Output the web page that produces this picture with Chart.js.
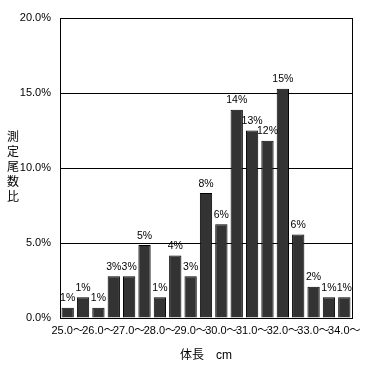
<!DOCTYPE html>
<html lang="ja">
<head>
    <meta charset="UTF-8">
    <title>体長組成</title>
    <script src="https://cdn.jsdelivr.net/npm/chart.js"></script>
    <style>
        body {
            margin: 0;
            background-color: white;
        }
        .chart-container {
            width: 370px;
            height: 369px;
            position: relative;
        }
    </style>
</head>
<body>
    <div class="chart-container">
        <canvas id="lengthChart"></canvas>
    </div>

    <script>
        // 体長階級 (0.5cm刻み)
        const classes = ['25.0〜', '25.5〜', '26.0〜', '26.5〜', '27.0〜', '27.5〜', '28.0〜', '28.5〜', '29.0〜', '29.5〜',
                         '30.0〜', '30.5〜', '31.0〜', '31.5〜', '32.0〜', '32.5〜', '33.0〜', '33.5〜', '34.0〜'];
        // 測定尾数比 (%)
        const ratios = [0.69, 1.39, 0.69, 2.78, 2.78, 4.86, 1.39, 4.17, 2.78, 8.33,
                        6.25, 13.89, 12.5, 11.81, 15.28, 5.56, 2.08, 1.39, 1.39];
        const barLabels = ['1%', '1%', '1%', '3%', '3%', '5%', '1%', '4%', '3%', '8%',
                           '6%', '14%', '13%', '12%', '15%', '6%', '2%', '1%', '1%'];
        const yTicks = [0, 5, 10, 15, 20];
        const yTitle = '測定尾数比';
        const xTitle = '体長　cm';

        const FONT = "'Liberation Sans', 'Noto Sans CJK JP', sans-serif";

        // bar value labels + stacked vertical y title + right frame
        const extras = {
            id: 'extras',
            afterDatasetsDraw(chart) {
                const ctx = chart.ctx;
                const meta = chart.getDatasetMeta(0);
                ctx.save();
                ctx.fillStyle = '#000';
                ctx.font = '10.5px ' + FONT;
                ctx.textAlign = 'center';
                ctx.textBaseline = 'bottom';
                meta.data.forEach((bar, i) => {
                    ctx.fillText(barLabels[i], bar.x, bar.y - 4);
                });

                const area = chart.chartArea;
                ctx.font = '12px ' + FONT;
                ctx.textBaseline = 'middle';
                const chars = Array.from(yTitle);
                const step = 15;
                const y0 = (area.top + area.bottom) / 2 - (chars.length - 1) * step / 2;
                chars.forEach((c, i) => {
                    ctx.fillText(c, 13, y0 + i * step);
                });

                ctx.strokeStyle = '#000';
                ctx.lineWidth = 1;
                ctx.beginPath();
                const xr = Math.round(area.right) + 0.5;
                ctx.moveTo(xr, area.top);
                ctx.lineTo(xr, area.bottom);
                ctx.stroke();
                ctx.restore();
            }
        };

        new Chart(document.getElementById('lengthChart'), {
            type: 'bar',
            data: {
                labels: classes,
                datasets: [{
                    data: ratios,
                    backgroundColor: '#333333',
                    borderColor: '#000000',
                    borderWidth: 1,
                    categoryPercentage: 1.0,
                    barPercentage: 0.8
                }]
            },
            options: {
                responsive: true,
                maintainAspectRatio: false,
                animation: false,
                layout: {
                    padding: { left: 0, right: 18, top: 18, bottom: 0 }
                },
                scales: {
                    x: {
                        grid: { display: false, drawTicks: false },
                        border: { display: true, color: '#000' },
                        afterFit: s => { s.height = 51; },
                        ticks: {
                            autoSkip: false,
                            maxRotation: 0,
                            padding: 6,
                            color: '#000',
                            font: { family: FONT, size: 11 },
                            callback: function(value, index) {
                                return index % 2 === 0 ? classes[index] : '';
                            }
                        },
                        title: {
                            display: true,
                            text: xTitle,
                            color: '#000',
                            font: { family: FONT, size: 12 },
                            padding: { top: 4, bottom: 6 }
                        }
                    },
                    y: {
                        min: 0,
                        max: 20,
                        afterFit: s => { s.width = 60; },
                        afterBuildTicks: s => { s.ticks = yTicks.map(v => ({ value: v })); },
                        grid: { color: '#000', lineWidth: 1, drawTicks: false },
                        border: { display: true, color: '#000' },
                        ticks: {
                            padding: 9,
                            color: '#000',
                            font: { family: FONT, size: 11 },
                            callback: v => v.toFixed(1) + '%'
                        }
                    }
                },
                plugins: {
                    legend: { display: false },
                    tooltip: { enabled: false }
                }
            },
            plugins: [extras]
        });
    </script>
</body>
</html>
